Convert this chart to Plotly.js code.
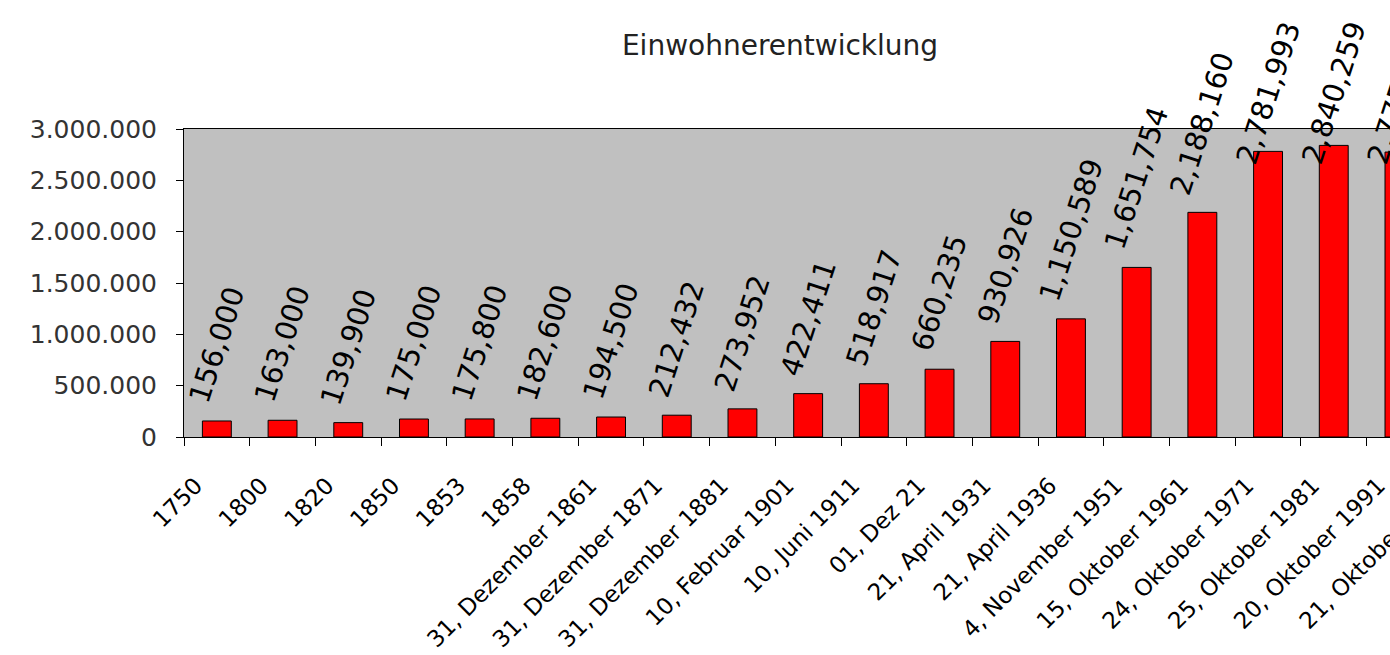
<!DOCTYPE html>
<html>
<head>
<meta charset="utf-8">
<script src="https://cdn.plot.ly/plotly-3.0.1.min.js"></script>
<style>
html,body{margin:0;padding:0;overflow:hidden;background:#fff;}
#chart{width:1560px;height:655px;}
</style>
</head>
<body>
<div id="chart"></div>
<script>
const categories = [
  "1750","1800","1820","1850","1853","1858",
  "31, Dezember 1861","31, Dezember 1871","31, Dezember 1881",
  "10, Februar 1901","10, Juni 1911","01, Dez 21",
  "21, April 1931","21, April 1936","4, November 1951",
  "15, Oktober 1961","24, Oktober 1971","25, Oktober 1981",
  "20, Oktober 1991","21, Oktober 2001"
];
const population = [
  156000,163000,139900,175000,175800,182600,
  194500,212432,273952,
  422411,518917,660235,
  930926,1150589,1651754,
  2188160,2781993,2840259,
  2775250,2546804
];
const yTicks = [0,500000,1000000,1500000,2000000,2500000,3000000];

const FONT = "DejaVu Sans, Verdana, sans-serif";
const LABEL_GAP = 11;   // px between bar top and its label box
const TOP_LIMIT = 15;   // labels are kept inside the chart area

const fmt = v => v.toLocaleString('en-US');

// category axis positions are indices into the categories array
const annotations = categories.map((c,i)=>({
  x: i, y: population[i], xref:'x', yref:'y',
  text: fmt(population[i]), showarrow:false,
  textangle:-72, xanchor:'center', yanchor:'bottom',
  yshift:LABEL_GAP, xshift:0,
  font:{family:FONT,size:29,color:'#000'}
}));

const trace = {
  type:'bar', x:categories, y:population,
  marker:{color:'#ff0000', line:{color:'#000', width:1}},
  hoverinfo:'x+y'
};

const layout = {
  width:1560, height:655,
  margin:{l:184, r:62, t:129, b:218, pad:0},
  paper_bgcolor:'#ffffff', plot_bgcolor:'#c0c0c0',
  separators:',.',
  showlegend:false,
  bargap:0.56,
  title:{text:'Einwohnerentwicklung', xref:'container', x:0.5, xanchor:'center',
         yref:'container', y:1-45/655, yanchor:'middle',
         font:{family:FONT, size:28, color:'#222'}},
  xaxis:{type:'category', range:[-0.5, categories.length-0.5], autorange:false,
         tickson:'boundaries', ticks:'outside', ticklen:8,
         tickcolor:'#000', tickwidth:1, tickangle:-45,
         showline:true, linecolor:'#000', linewidth:1, mirror:true,
         showgrid:false, zeroline:false,
         ticklabelstandoff:25, ticklabelshift:-21,
         tickfont:{family:FONT, size:23, color:'#000'}},
  yaxis:{range:[0,3000000], tickmode:'array', tickvals:yTicks, tickformat:',d',
         ticks:'outside', ticklen:7, tickcolor:'#000', tickwidth:1,
         showline:true, linecolor:'#000', linewidth:1, mirror:true,
         showgrid:false, zeroline:false, ticklabelstandoff:14,
         tickfont:{family:FONT, size:25, color:'#333'}},
  annotations: annotations
};

Plotly.newPlot('chart',[trace],layout,{displayModeBar:false, staticPlot:true}).then(gd=>{
  // keep labels inside the chart area, like the original chart does
  const upd = {};
  gd.querySelectorAll('.annotation').forEach(node=>{
    const idx = +node.getAttribute('data-index');
    const r = node.getBoundingClientRect();
    if (r.top < TOP_LIMIT) upd['annotations['+idx+'].yshift'] = LABEL_GAP - (TOP_LIMIT - r.top);
  });
  if (Object.keys(upd).length) Plotly.relayout(gd, upd);
});
</script>
</body>
</html>
